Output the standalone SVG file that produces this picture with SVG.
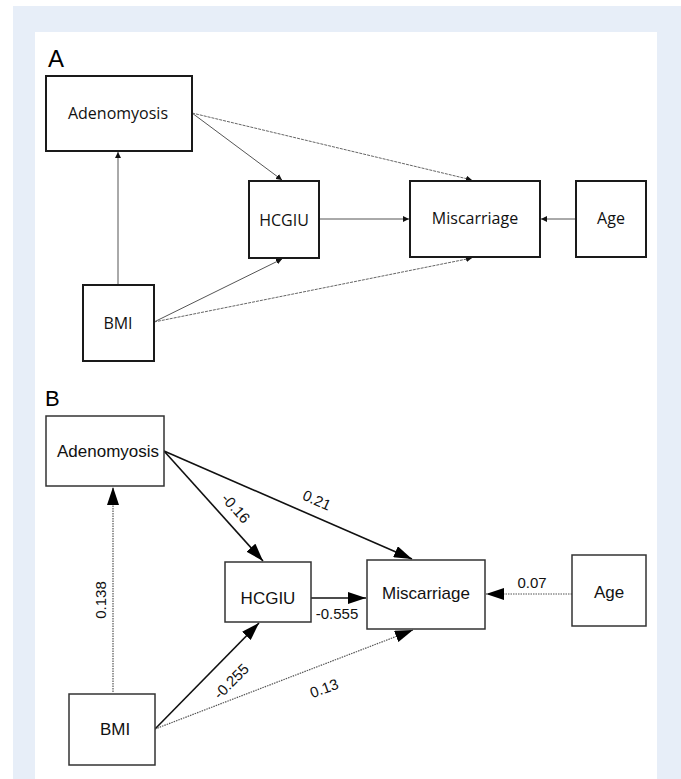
<svg xmlns="http://www.w3.org/2000/svg" width="681" height="779" viewBox="0 0 681 779">
<defs>
<style>
.boxA{fill:#fff;stroke:#1a1a1a;stroke-width:2}
.boxB{fill:#fff;stroke:#333;stroke-width:1.5}
.tA{font-family:"Open Sans","Noto Sans",sans-serif;font-size:16px;fill:#111;text-anchor:middle;dominant-baseline:central}
.tB{font-family:"Liberation Sans",Arial,sans-serif;font-size:17px;fill:#111;text-anchor:middle;dominant-baseline:central}
.lab{font-family:"Liberation Sans",Arial,sans-serif;font-size:15px;fill:#111;text-anchor:middle;dominant-baseline:central}
.panel{font-family:"Liberation Sans",Arial,sans-serif;fill:#000}
.cA{stroke:#555;stroke-width:1;fill:none;marker-end:url(#aS)}
.cAd{stroke:#666;stroke-width:1;fill:none;stroke-dasharray:3 1;marker-end:url(#aS)}
.cB{stroke:#111;stroke-width:1.6;fill:none;marker-end:url(#aL)}
.cBd{stroke:#555;stroke-width:1.2;fill:none;stroke-dasharray:1.5 1;marker-end:url(#aL)}
</style>
<marker id="aS" viewBox="0 0 10 10" refX="10" refY="5" markerWidth="6" markerHeight="6" markerUnits="userSpaceOnUse" orient="auto">
<path d="M0,0 L10,5 L0,10 z" fill="#111"/>
</marker>
<marker id="aL" viewBox="0 0 10 10" refX="10" refY="5" markerWidth="18" markerHeight="12" markerUnits="userSpaceOnUse" orient="auto" preserveAspectRatio="none">
<path d="M0,0 L10,5 L0,10 z" fill="#000"/>
</marker>
</defs>
<rect x="0" y="0" width="681" height="779" fill="#fff"/>
<rect x="13" y="6" width="668" height="773" fill="#e7eef8"/>
<rect x="35" y="32" width="622" height="747" fill="#fff"/>
<text class="panel" x="48" y="67" font-size="24">A</text>
<text class="panel" x="45" y="406" font-size="22">B</text>

<g id="connectorsA">
<line class="cA" x1="118" y1="285" x2="118" y2="152"/>
<line class="cA" x1="192" y1="113" x2="282" y2="180"/>
<line class="cAd" x1="192" y1="113" x2="472" y2="180"/>
<line class="cA" x1="319" y1="219" x2="409" y2="219"/>
<line class="cA" x1="576" y1="219" x2="541" y2="219"/>
<line class="cA" x1="154" y1="322" x2="282" y2="259"/>
<line class="cAd" x1="154" y1="322" x2="472" y2="258"/>
</g>

<g id="nodeA-adenomyosis"><rect class="boxA" x="46" y="76" width="146" height="75"/><text class="tA" x="118" y="113">Adenomyosis</text></g>
<g id="nodeA-hcgiu"><rect class="boxA" x="249" y="181" width="70" height="77"/><text class="tA" x="284" y="220">HCGIU</text></g>
<g id="nodeA-bmi"><rect class="boxA" x="83" y="285" width="71" height="76"/><text class="tA" x="118" y="323">BMI</text></g>
<g id="nodeA-miscarriage"><rect class="boxA" x="410" y="181" width="130" height="76"/><text class="tA" x="475" y="218">Miscarriage</text></g>
<g id="nodeA-age"><rect class="boxA" x="576" y="181" width="70" height="76"/><text class="tA" x="611" y="218">Age</text></g>

<g id="connectorsB">
<line class="cBd" x1="113" y1="692" x2="113" y2="487"/>
<line class="cB" x1="164" y1="451" x2="263" y2="561"/>
<line class="cB" x1="164" y1="451" x2="412" y2="559"/>
<line class="cB" x1="311" y1="598" x2="366" y2="598"/>
<line class="cBd" x1="572" y1="594" x2="486" y2="594"/>
<line class="cB" x1="155" y1="729" x2="259" y2="623"/>
<line class="cBd" x1="155" y1="729" x2="413" y2="630"/>
<text class="lab" transform="translate(100 600) rotate(-90)">0.138</text>
<text class="lab" transform="translate(236 508) rotate(48)">-0.16</text>
<text class="lab" transform="translate(317 500) rotate(24)">0.21</text>
<text class="lab" x="337" y="613">-0.555</text>
<text class="lab" x="532" y="582">0.07</text>
<text class="lab" transform="translate(231 681) rotate(-45)">-0.255</text>
<text class="lab" transform="translate(324 688) rotate(-20)">0.13</text>
</g>

<g id="nodeB-adenomyosis"><rect class="boxB" x="46" y="416" width="118" height="70"/><text class="tB" x="108" y="451">Adenomyosis</text></g>
<g id="nodeB-hcgiu"><rect class="boxB" x="225" y="562" width="86" height="60"/><text class="tB" x="268" y="598">HCGIU</text></g>
<g id="nodeB-bmi"><rect class="boxB" x="69" y="694" width="86" height="71"/><text class="tB" x="115" y="729">BMI</text></g>
<g id="nodeB-miscarriage"><rect class="boxB" x="367" y="560" width="118" height="69"/><text class="tB" x="426" y="593">Miscarriage</text></g>
<g id="nodeB-age"><rect class="boxB" x="572" y="555" width="74" height="71"/><text class="tB" x="609" y="592">Age</text></g>
</svg>
